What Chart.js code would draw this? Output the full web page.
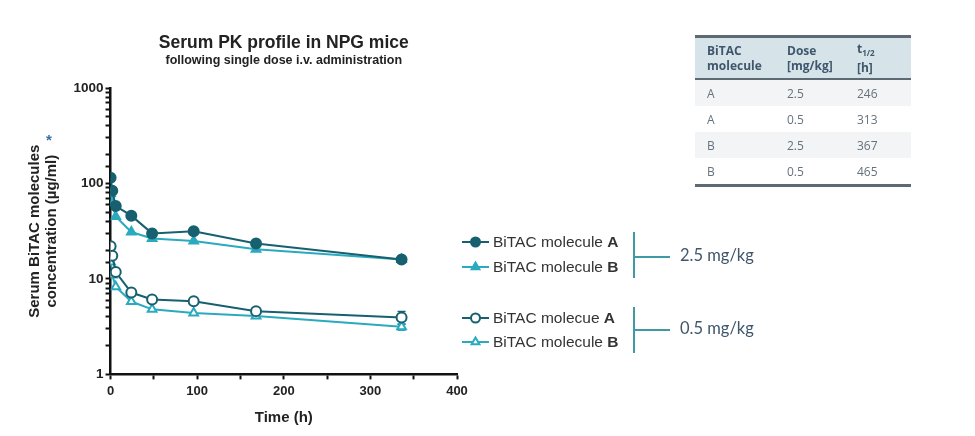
<!DOCTYPE html>
<html>
<head>
<meta charset="utf-8">
<script src="https://cdn.jsdelivr.net/npm/chart.js@4.4.1/dist/chart.umd.min.js"></script>
<style>
    body { margin: 0; background: #ffffff; }
    #wrap { position: relative; width: 975px; height: 436px; }
    #pkChart { position: absolute; left: 0; top: 0; }
    #halfLife {
        position: absolute; left: 695px; top: 35px; width: 216px; table-layout: fixed;
        border-collapse: collapse; font-family: 'Open Sans', sans-serif; font-size: 12px;
        color: #66727d;
    }
    #halfLife th {
        background: #d6e4ea; color: #3f566b; font-weight: bold; text-align: left;
        padding: 3px 0 3px 12px; line-height: 15px; height: 34px; vertical-align: middle;
        border-top: 3px solid #5e6a73; border-bottom: 2px solid #5e6a73;
    }
    #halfLife td { padding: 0 0 0 12px; height: 26px; }
    #halfLife tr.odd td { background: #f2f4f5; }
    #halfLife tr:last-child td { border-bottom: 3px solid #5e6a73; }
</style>
</head>
<body>
<div id="wrap">
    <canvas id="pkChart" width="975" height="436"></canvas>
    <table id="halfLife">
        <colgroup><col style="width:80px"><col style="width:70px"><col style="width:66px"></colgroup>
        <thead>
            <tr><th>BiTAC<br>molecule</th><th>Dose<br>[mg/kg]</th><th>t<sub style="font-size:8px">1/2</sub><br>[h]</th></tr>
        </thead>
        <tbody id="halfLifeBody"></tbody>
    </table>
</div>
<script>
// sampling times (h)
var times = [0.08, 2, 6, 24, 48, 96, 168, 336];

// serum concentrations (µg/ml)
var molA_25 = [115, 84, 58, 46, 30, 31.5, 23.5, 16];
var molB_25 = [78, 62, 45, 31, 26.5, 25, 20.5, 16];
var molA_05 = [22, 17.5, 11.8, 7.2, 6.1, 5.85, 4.6, 3.95];
var molB_05 = [15, 11, 8.3, 5.8, 4.8, 4.4, 4.1, 3.15];

// SD (only visible at the last time point)
var errA_25 = [0, 0, 0, 0, 0, 0, 0, 0.8];
var errB_25 = [0, 0, 0, 0, 0, 0, 0, 0];
var errA_05 = [0, 0, 0, 0, 0, 0, 0, 0.6];
var errB_05 = [0, 0, 0, 0, 0, 0, 0, 0.25];

// half-life table
var tableMolecule = ['A', 'A', 'B', 'B'];
var tableDose = ['2.5', '0.5', '2.5', '0.5'];
var tableHalfLife = [246, 313, 367, 465];

var darkTeal = '#17606f';
var lightTeal = '#2aaabf';
var mainFont = '"Liberation Sans", Arial, sans-serif';

function toPoints(values) {
    return times.map(function (t, i) { return { x: t, y: values[i] }; });
}

var tbody = document.getElementById('halfLifeBody');
tableMolecule.forEach(function (m, i) {
    var tr = document.createElement('tr');
    if (i % 2 === 0) tr.className = 'odd';
    tr.innerHTML = '<td>' + m + '</td><td>' + tableDose[i] + '</td><td>' + tableHalfLife[i] + '</td>';
    tbody.appendChild(tr);
});

var datasets = [
    { label: 'BiTAC molecule A', mol: 'A', data: toPoints(molA_25), err: errA_25, borderColor: darkTeal, backgroundColor: darkTeal, pointStyle: 'circle' },
    { label: 'BiTAC molecule B', mol: 'B', data: toPoints(molB_25), err: errB_25, borderColor: lightTeal, backgroundColor: lightTeal, pointStyle: 'triangle' },
    { label: 'BiTAC molecue A', mol: 'A', data: toPoints(molA_05), err: errA_05, borderColor: darkTeal, backgroundColor: '#ffffff', pointStyle: 'circle' },
    { label: 'BiTAC molecule B', mol: 'B', data: toPoints(molB_05), err: errB_05, borderColor: lightTeal, backgroundColor: '#ffffff', pointStyle: 'triangle' }
];
datasets.forEach(function (d) {
    d.borderWidth = 2;
    d.pointRadius = 5;
    d.pointBorderWidth = 2;
    d.pointBackgroundColor = d.backgroundColor;
    d.pointBorderColor = d.borderColor;
    d.fill = false;
    d.tension = 0;
});

// error bars, legend, brackets and titles
var extrasPlugin = {
    id: 'extras',
    beforeDatasetsDraw: function (chart) {
        var ctx = chart.ctx;
        var xs = chart.scales.x, ys = chart.scales.y;
        ctx.save();
        chart.data.datasets.forEach(function (d) {
            ctx.strokeStyle = d.borderColor;
            ctx.lineWidth = 1.5;
            d.data.forEach(function (p, i) {
                var e = d.err[i];
                if (!e) return;
                var px = xs.getPixelForValue(p.x);
                var top = ys.getPixelForValue(p.y + e);
                var bot = ys.getPixelForValue(p.y - e);
                ctx.beginPath();
                ctx.moveTo(px, top); ctx.lineTo(px, bot);
                ctx.moveTo(px - 4, top); ctx.lineTo(px + 4, top);
                ctx.moveTo(px - 4, bot); ctx.lineTo(px + 4, bot);
                ctx.stroke();
            });
        });
        ctx.restore();
    },
    afterDraw: function (chart) {
        var ctx = chart.ctx;
        var area = chart.chartArea;
        var cx = (area.left + area.right) / 2;
        ctx.save();

        // titles
        ctx.fillStyle = '#222222';
        ctx.textAlign = 'center';
        ctx.textBaseline = 'middle';
        ctx.font = 'bold 17.5px ' + mainFont;
        ctx.fillText('Serum PK profile in NPG mice', cx, 43);
        ctx.font = 'bold 12.5px ' + mainFont;
        ctx.fillText('following single dose i.v. administration', cx, 61);

        // asterisk next to the y title
        ctx.fillStyle = '#3b6fa8';
        ctx.font = 'bold 15px ' + mainFont;
        ctx.fillText('*', 49, 141);

        // legend
        var rows = [242, 267, 318, 342];
        chart.data.datasets.forEach(function (d, i) {
            var y = rows[i];
            ctx.strokeStyle = d.borderColor;
            ctx.lineWidth = 2;
            ctx.beginPath();
            ctx.moveTo(462, y); ctx.lineTo(489, y);
            ctx.stroke();
            ctx.fillStyle = d.backgroundColor;
            Chart.helpers.drawPoint(ctx, { pointStyle: d.pointStyle, radius: 4.5, borderWidth: 2, rotation: 0 }, 475.5, y);
            ctx.fillStyle = '#333333';
            ctx.textAlign = 'left';
            ctx.font = '15.5px ' + mainFont;
            var base = d.label.slice(0, -1);
            ctx.fillText(base, 493, y + 1);
            var w = ctx.measureText(base).width;
            ctx.font = 'bold 15.5px ' + mainFont;
            ctx.fillText(d.mol, 493 + w, y + 1);
        });

        // dose brackets
        var doses = [{ top: 232, bot: 278, mid: 257, text: '2.5 mg/kg' },
                     { top: 307, bot: 353, mid: 330, text: '0.5 mg/kg' }];
        doses.forEach(function (b) {
            ctx.strokeStyle = '#3f9aa6';
            ctx.lineWidth = 2;
            ctx.beginPath();
            ctx.moveTo(634, b.top); ctx.lineTo(634, b.bot);
            ctx.moveTo(634, b.mid); ctx.lineTo(670, b.mid);
            ctx.stroke();
            ctx.fillStyle = '#3f566b';
            ctx.font = '16.5px Lato, "Open Sans", sans-serif';
            ctx.textAlign = 'left';
            ctx.fillText(b.text, 680, b.mid - 1);
        });
        ctx.restore();
    }
};

var ctx = document.getElementById('pkChart').getContext('2d');
var pkChart = new Chart(ctx, {
    type: 'line',
    data: { datasets: datasets },
    options: {
        responsive: false,
        animation: false,
        layout: {
            padding: { left: 26, top: 88, right: 518, bottom: 9 }
        },
        plugins: {
            legend: { display: false },
            tooltip: { enabled: false }
        },
        scales: {
            x: {
                type: 'linear',
                min: 0,
                max: 400,
                border: { color: '#111111', width: 2.5 },
                grid: { drawOnChartArea: false, drawTicks: true, tickLength: 5, tickColor: '#111111', tickWidth: 2 },
                ticks: {
                    stepSize: 50,
                    autoSkip: false,
                    maxRotation: 0,
                    color: '#222222',
                    padding: 4,
                    font: { family: mainFont, size: 13, weight: 'bold' },
                    callback: function (v) { return v % 100 === 0 ? v : ''; }
                },
                title: {
                    display: true,
                    text: 'Time (h)',
                    color: '#222222',
                    padding: { top: 6, bottom: 0 },
                    font: { family: mainFont, size: 15, weight: 'bold' }
                }
            },
            y: {
                type: 'logarithmic',
                min: 1,
                max: 1000,
                border: { color: '#111111', width: 2.5 },
                grid: { drawOnChartArea: false, drawTicks: true, tickLength: 5, tickColor: '#111111', tickWidth: 2 },
                ticks: {
                    autoSkip: false,
                    color: '#222222',
                    padding: 2,
                    font: { family: mainFont, size: 13.5, weight: 'bold' },
                    callback: function (v) {
                        var l = Math.log10(v);
                        return Math.abs(l - Math.round(l)) < 1e-9 ? String(v) : '';
                    }
                },
                title: {
                    display: true,
                    text: ['Serum BiTAC molecules', 'concentration (µg/ml)'],
                    color: '#222222',
                    padding: { top: 0, bottom: 11 },
                    font: { family: mainFont, size: 15, weight: 'bold', lineHeight: 1.15 }
                }
            }
        }
    },
    plugins: [extrasPlugin]
});
</script>
</body>
</html>
